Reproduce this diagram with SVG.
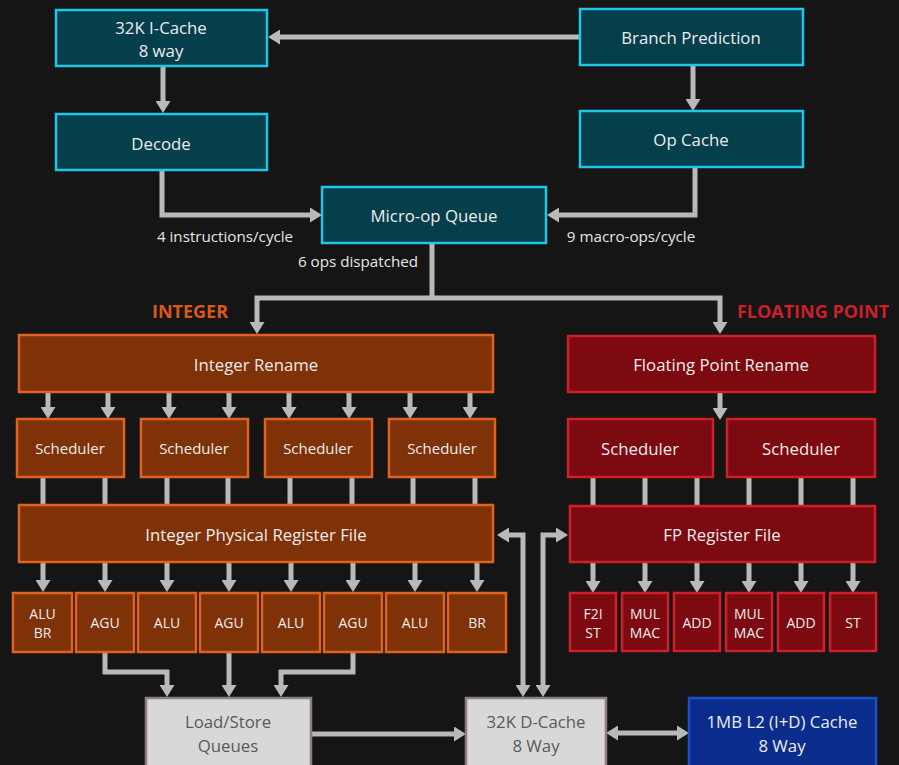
<svg xmlns="http://www.w3.org/2000/svg" width="899" height="765" viewBox="0 0 899 765">
<defs>
<marker id="ah" viewBox="0 0 12 15" refX="0" refY="7.5" markerWidth="12" markerHeight="15" markerUnits="userSpaceOnUse" orient="auto-start-reverse">
<path d="M0,0 L12,7.5 L0,15 z" fill="#b9b9b9"/>
</marker>
<style>
.cy{fill:#053f4c;stroke:#1fc6e6;stroke-width:2.5}
.or{fill:#7f3108;stroke:#e0621e;stroke-width:2.5}
.rd{fill:#7c0a10;stroke:#cf2029;stroke-width:2.5}
.gy{fill:#d8d8d8;stroke:#8d7f80;stroke-width:2.5}
.bl{fill:#0a2c8c;stroke:#1b4fd0;stroke-width:2.5}
text{font-family:"Open Sans","Liberation Sans",sans-serif;text-anchor:middle;dominant-baseline:central;fill:#ececec}
.t16{font-size:16.8px}
.t15{font-size:15px}
.t13{font-size:14px}
.dk{fill:#5a5a5a}
.lab{font-size:15.2px;fill:#e6e6e6}
.hd{font-size:18px;font-weight:bold}
.c path{fill:none;stroke:#b9b9b9;stroke-width:5}
.a{marker-end:url(#ah)}
.b{marker-start:url(#ah);marker-end:url(#ah)}
</style>
</defs>
<rect width="899" height="765" fill="#151515"/>

<g class="c" id="connectors">
<path class="a" d="M580,37 H280"/>
<path class="a" d="M163,66 V101"/>
<path class="a" d="M693,65 V99"/>
<path class="a" d="M162,170 V215 H310"/>
<path class="a" d="M695,167 V215 H559"/>
<path d="M432,243 V298"/>
<path class="b" d="M257,322 V298 H720 V322"/>
<path class="a" d="M48,392 V407"/>
<path class="a" d="M108,392 V407"/>
<path class="a" d="M169,392 V407"/>
<path class="a" d="M229,392 V407"/>
<path class="a" d="M289,392 V407"/>
<path class="a" d="M349,392 V407"/>
<path class="a" d="M410,392 V407"/>
<path class="a" d="M470,392 V407"/>
<path d="M43,477 V505"/>
<path d="M105,477 V505"/>
<path d="M167,477 V505"/>
<path d="M228,477 V505"/>
<path d="M290,477 V505"/>
<path d="M352,477 V505"/>
<path d="M413,477 V505"/>
<path d="M475,477 V505"/>
<path class="a" d="M43,562 V580"/>
<path class="a" d="M105,562 V580"/>
<path class="a" d="M167,562 V580"/>
<path class="a" d="M229,562 V580"/>
<path class="a" d="M291,562 V580"/>
<path class="a" d="M353,562 V580"/>
<path class="a" d="M415,562 V580"/>
<path class="a" d="M477,562 V580"/>
<path class="a" d="M720,392 V408"/>
<path d="M593,477 V506"/>
<path d="M645,477 V506"/>
<path d="M697,477 V506"/>
<path d="M749,477 V506"/>
<path d="M801,477 V506"/>
<path d="M853,477 V506"/>
<path class="a" d="M593,562 V581"/>
<path class="a" d="M645,562 V581"/>
<path class="a" d="M697,562 V581"/>
<path class="a" d="M749,562 V581"/>
<path class="a" d="M801,562 V581"/>
<path class="a" d="M853,562 V581"/>
<path class="b" d="M509,535 H523 V685"/>
<path class="b" d="M556,535 H543 V685"/>
<path class="a" d="M105,652 V672 H167 V685"/>
<path class="a" d="M229,652 V685"/>
<path class="a" d="M353,652 V672 H281 V685"/>
<path class="a" d="M311,734 H454"/>
<path class="b" d="M618,733 H677"/>
</g>

<g id="icache"><rect class="cy" x="56" y="10" width="211" height="56"/><text class="t16" x="161" y="27">32K I-Cache</text><text class="t16" x="161" y="50">8 way</text></g>
<g id="decode"><rect class="cy" x="56" y="114" width="211" height="56"/><text class="t16" x="161" y="143">Decode</text></g>
<g id="branch"><rect class="cy" x="580" y="9" width="223" height="56"/><text class="t16" x="691" y="37">Branch Prediction</text></g>
<g id="opcache"><rect class="cy" x="580" y="111" width="223" height="56"/><text class="t16" x="691" y="139">Op Cache</text></g>
<g id="moq"><rect class="cy" x="322" y="187" width="224" height="56"/><text class="t16" x="434" y="215">Micro-op Queue</text></g>

<g id="labels">
<text class="lab" x="225" y="236">4 instructions/cycle</text>
<text class="lab" x="631" y="236">9 macro-ops/cycle</text>
<text class="lab" x="358" y="261">6 ops dispatched</text>
<text class="hd" x="190" y="311" style="fill:#d9581c">INTEGER</text>
<text class="hd" x="813" y="311" style="fill:#cc1f28">FLOATING POINT</text>
</g>

<g id="int-rename"><rect class="or" x="19" y="335" width="474" height="57"/><text class="t16" x="256" y="364">Integer Rename</text></g>
<g id="int-sched1"><rect class="or" x="17" y="419" width="107" height="58"/><text class="t15" x="70" y="448">Scheduler</text></g>
<g id="int-sched2"><rect class="or" x="141" y="419" width="107" height="58"/><text class="t15" x="194" y="448">Scheduler</text></g>
<g id="int-sched3"><rect class="or" x="265" y="419" width="107" height="58"/><text class="t15" x="318" y="448">Scheduler</text></g>
<g id="int-sched4"><rect class="or" x="389" y="419" width="106" height="58"/><text class="t15" x="442" y="448">Scheduler</text></g>
<g id="int-prf"><rect class="or" x="19" y="505" width="474" height="57"/><text class="t16" x="256" y="534">Integer Physical Register File</text></g>

<g id="int-alu-br"><rect class="or" x="13" y="593" width="59" height="59"/><text class="t13" x="42.5" y="613">ALU</text><text class="t13" x="42.5" y="632">BR</text></g>
<g id="int-agu1"><rect class="or" x="76" y="593" width="58" height="59"/><text class="t13" x="105" y="622.5">AGU</text></g>
<g id="int-alu1"><rect class="or" x="138" y="593" width="58" height="59"/><text class="t13" x="167" y="622.5">ALU</text></g>
<g id="int-agu2"><rect class="or" x="200" y="593" width="58" height="59"/><text class="t13" x="229" y="622.5">AGU</text></g>
<g id="int-alu2"><rect class="or" x="262" y="593" width="58" height="59"/><text class="t13" x="291" y="622.5">ALU</text></g>
<g id="int-agu3"><rect class="or" x="324" y="593" width="58" height="59"/><text class="t13" x="353" y="622.5">AGU</text></g>
<g id="int-alu3"><rect class="or" x="386" y="593" width="58" height="59"/><text class="t13" x="415" y="622.5">ALU</text></g>
<g id="int-br"><rect class="or" x="448" y="593" width="58" height="59"/><text class="t13" x="477" y="622.5">BR</text></g>

<g id="fp-rename"><rect class="rd" x="568" y="336" width="307" height="56"/><text class="t16" x="721" y="364">Floating Point Rename</text></g>
<g id="fp-sched1"><rect class="rd" x="568" y="419" width="145" height="58"/><text class="t16" x="640" y="448">Scheduler</text></g>
<g id="fp-sched2"><rect class="rd" x="727" y="419" width="148" height="58"/><text class="t16" x="801" y="448">Scheduler</text></g>
<g id="fp-rf"><rect class="rd" x="570" y="506" width="305" height="56"/><text class="t16" x="722" y="534">FP Register File</text></g>

<g id="fp-f2i"><rect class="rd" x="570" y="593" width="46" height="58"/><text class="t13" x="593" y="613">F2I</text><text class="t13" x="593" y="632">ST</text></g>
<g id="fp-mul1"><rect class="rd" x="622" y="593" width="46" height="58"/><text class="t13" x="645" y="613">MUL</text><text class="t13" x="645" y="632">MAC</text></g>
<g id="fp-add1"><rect class="rd" x="674" y="593" width="46" height="58"/><text class="t13" x="697" y="622">ADD</text></g>
<g id="fp-mul2"><rect class="rd" x="726" y="593" width="46" height="58"/><text class="t13" x="749" y="613">MUL</text><text class="t13" x="749" y="632">MAC</text></g>
<g id="fp-add2"><rect class="rd" x="778" y="593" width="46" height="58"/><text class="t13" x="801" y="622">ADD</text></g>
<g id="fp-st"><rect class="rd" x="830" y="593" width="46" height="58"/><text class="t13" x="853" y="622">ST</text></g>

<g id="lsq"><rect class="gy" x="146" y="698" width="165" height="80"/><text class="t16 dk" x="228" y="721">Load/Store</text><text class="t16 dk" x="228" y="745">Queues</text></g>
<g id="dcache"><rect class="gy" x="466" y="698" width="140" height="80"/><text class="t16 dk" x="536" y="721">32K D-Cache</text><text class="t16 dk" x="536" y="745">8 Way</text></g>
<g id="l2"><rect class="bl" x="689" y="698" width="187" height="80"/><text class="t16" x="782" y="721">1MB L2 (I+D) Cache</text><text class="t16" x="782" y="745">8 Way</text></g>
</svg>
